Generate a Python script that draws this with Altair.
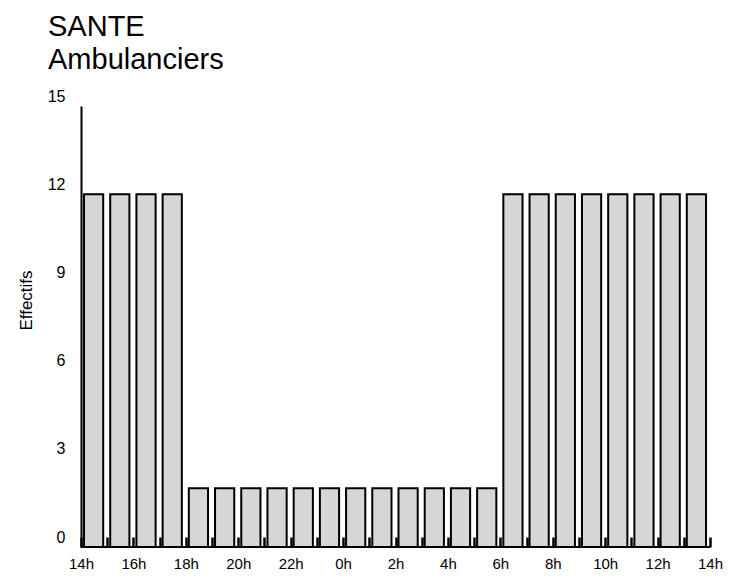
import altair as alt
import pandas as pd

# Hourly slots starting at 14h (24 slots)
hours = ["14h", "15h", "16h", "17h", "18h", "19h", "20h", "21h", "22h", "23h", "0h", "1h",
         "2h", "3h", "4h", "5h", "6h", "7h", "8h", "9h", "10h", "11h", "12h", "13h"]
effectifs = [12, 12, 12, 12, 2, 2, 2, 2, 2, 2, 2, 2,
             2, 2, 2, 2, 12, 12, 12, 12, 12, 12, 12, 12]
tick_labels = ["14h", "16h", "18h", "20h", "22h", "0h", "2h", "4h", "6h", "8h", "10h", "12h", "14h"]
y_ticks = [0, 3, 6, 9, 12, 15]

df = pd.DataFrame({
    "heure": hours,
    "start": list(range(len(hours))),
    "end": [i + 1 for i in range(len(hours))],
    "effectifs": effectifs,
})

label_arr = "[" + ",".join("'" + t + "'" for t in tick_labels) + "]"
label_expr = f"datum.value % 2 == 0 ? {label_arr}[datum.value / 2] : ''"

FONT = "Liberation Sans"

x_enc = alt.X(
    "start:Q",
    scale=alt.Scale(domain=[0, 24], nice=False, zero=False),
    axis=alt.Axis(
        values=list(range(0, 25)),
        labelExpr=label_expr,
        labelFlush=False,
        labelOverlap=False,
        domain=False,
        grid=False,
        ticks=True,
        tickSize=10,
        tickWidth=2.5,
        tickColor="black",
        offset=-10,
        labelPadding=9,
        labelFontSize=15,
        labelFont=FONT,
        labelColor="black",
        title=None,
    ),
)

y_enc = alt.Y(
    "effectifs:Q",
    scale=alt.Scale(domain=[0, 15], nice=False),
    axis=alt.Axis(
        values=y_ticks,
        ticks=False,
        grid=False,
        domain=True,
        domainColor="black",
        domainWidth=2,
        labelPadding=16,
        labelOffset=-10,
        labelFontSize=16,
        labelFont=FONT,
        labelColor="black",
        title="Effectifs",
        titleFont=FONT,
        titleFontSize=17,
        titleFontWeight="normal",
        titleColor="black",
        titleAngle=-90,
        titleX=-46,
        titleY=194,
        titleAlign="center",
        titleBaseline="bottom",
    ),
)

bars = alt.Chart(df).mark_bar(
    fill="#d6d6d6",
    stroke="black",
    strokeWidth=2,
    xOffset=3,
    x2Offset=-4,
).encode(
    x=x_enc,
    x2="end:Q",
    y=y_enc,
    y2=alt.datum(0),
)

baseline = alt.Chart(df).mark_rule(color="black", strokeWidth=2).encode(
    y=alt.datum(0),
)

chart = alt.layer(bars, baseline).properties(
    width=629,
    height=441,
    title=alt.TitleParams(
        text=["SANTE", "Ambulanciers"],
        anchor="start",
        frame="group",
        fontSize=29,
        font=FONT,
        fontWeight="normal",
        color="black",
        lineHeight=33,
        dx=-33,
        offset=13,
    ),
    autosize=alt.AutoSizeParams(type="none"),
    padding={"left": 73, "top": 98, "right": 14, "bottom": 27},
).configure_view(stroke=None)

chart.save("out.html", embed_options={"renderer": "svg", "actions": False})
